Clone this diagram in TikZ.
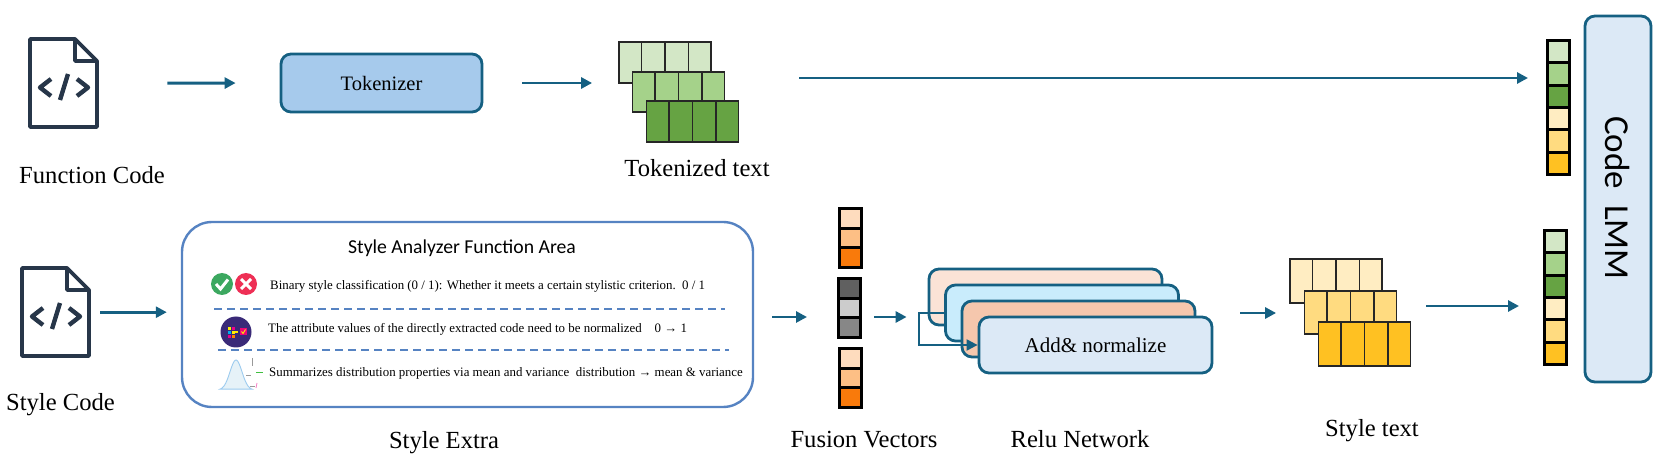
\documentclass[tikz,border=0pt]{standalone}
\usepackage{fontspec}
\setmainfont{Liberation Serif}
\newfontfamily\carlito{Carlito}
\usetikzlibrary{arrows.meta,positioning,calc}
\definecolor{arrBlue}{RGB}{21,96,130}
\definecolor{iconInk}{RGB}{39,54,73}
\definecolor{tokFill}{RGB}{166,202,236}
\definecolor{lmmFill}{RGB}{220,233,246}
\definecolor{areaLine}{RGB}{86,131,194}
\definecolor{gLight}{RGB}{211,231,198}
\definecolor{gMid}{RGB}{165,210,138}
\definecolor{gDark}{RGB}{102,163,67}
\definecolor{yLight}{RGB}{255,237,194}
\definecolor{yMid}{RGB}{255,219,128}
\definecolor{yDark}{RGB}{255,193,34}
\definecolor{oLight}{RGB}{254,220,190}
\definecolor{oMid}{RGB}{253,191,133}
\definecolor{oDark}{RGB}{249,122,11}
\definecolor{kDark}{RGB}{96,96,96}
\definecolor{kLight}{RGB}{204,204,204}
\definecolor{kMid}{RGB}{135,135,135}
\definecolor{reluA}{RGB}{251,227,214}
\definecolor{reluB}{RGB}{201,236,252}
\definecolor{reluC}{RGB}{245,199,173}
\definecolor{okGreen}{RGB}{60,168,96}
\definecolor{noRed}{RGB}{238,47,85}
\definecolor{normPurple}{RGB}{58,42,120}
\definecolor{bellFill}{RGB}{230,242,248}
\definecolor{bellLine}{RGB}{156,203,239}

\begin{document}
\begin{tikzpicture}[
  x=1pt, y=-1pt,
  arr/.style={-{Triangle[length=11pt,width=11pt]}, line width=2.9pt, draw=arrBlue},
  lab/.style={font=\fontsize{24.6}{28}\selectfont, inner sep=0pt},
  tokbox/.style={rounded corners=10pt, draw=arrBlue, line width=2.8pt, inner sep=0pt, font=\fontsize{20.5}{24}\selectfont},
  relubox/.style={tokbox, minimum width=233pt, minimum height=56pt, font=\fontsize{21}{25}\selectfont},
  rowbox/.style={draw=black!85, line width=1.8pt, minimum width=92pt, inner sep=0pt},
  cellline/.style={black!85, line width=1.8pt},
  cell/.style={draw=black, line width=3pt, inner sep=0pt},
  ghost/.style={inner sep=0pt, draw=none},
  stat/.style={font=\fontsize{12.9}{15}\selectfont, anchor=west, inner sep=0pt},
  sep/.style={areaLine, line width=1.8pt, dash pattern=on 8pt off 5pt},
]
\useasboundingbox (0,0) rectangle (1666,462);

% file icon: #1 name, #2 left, #3 top
\newcommand{\docicon}[3]{%
  \node[ghost, minimum width=71pt, minimum height=92pt, anchor=north west] (#1) at (#2,#3) {};
  \begin{scope}[shift={(#2,#3)}, iconInk, line width=3.8pt, line join=round]
    \draw (2,2) -- (47,2) -- (69,24) -- (69,90) -- (2,90) -- cycle;
    \draw (47,2) -- (47,24) -- (69,24);
    \draw[line width=4.4pt] (23,42) -- (12,50.5) -- (23,59);
    \draw[line width=4.4pt] (49,42) -- (60,50.5) -- (49,59);
    \draw[line width=4.4pt] (40,37) -- (32,63);
  \end{scope}
}
% one row of a token stack: #1 name, #2 centre x, #3 centre y, #4 height, #5 fill
\newcommand{\tokrow}[5]{%
  \node[rowbox, fill=#5, minimum height=#4pt] (#1) at (#2,#3) {};
  \foreach \f in {0.25,0.5,0.75}
    \draw[cellline] ($(#1.north west)!\f!(#1.north east)$) -- ($(#1.south west)!\f!(#1.south east)$);
}
% vertical vector: #1 name, #2 centre x, #3 top, #4 cell height, #5 fills
\newcommand{\vecbar}[5]{%
  \foreach \c [count=\i] in {#5} {
    \pgfmathsetmacro{\cy}{#3+(\i-0.5)*#4}
    \node[cell, fill=\c, minimum width=22pt, minimum height=#4pt] (#1-\i) at (#2,\cy) {};
  }
}

% ======================= top row =======================
\docicon{fdoc}{28}{37}
\node[lab] (fdoclab) at (92,175) {Function Code};
\node[tokbox, fill=tokFill, minimum width=201pt, minimum height=58pt] (tok) at (381.5,83) {Tokenizer};
\tokrow{tkA}{665}{62.5}{41}{gLight}
\tokrow{tkB}{678.5}{92}{40}{gMid}
\tokrow{tkC}{692.5}{121.5}{41}{gDark}
\node[lab] (tklab) at (697,168) {Tokenized text};
\draw[arr, shorten <=68pt, shorten >=44pt] (fdoc.east) -- (tok.west);
\draw[arr, shorten <=39pt, shorten >=26pt] (tok.east) -- (tok.east -| tkA.west);

\vecbar{vecA}{1558.5}{40.5}{22.33}{gLight,gMid,gDark,yLight,yMid,yDark}
\node[tokbox, fill=lmmFill, minimum width=66pt, minimum height=366pt] (lmm) at (1618,199) {};
\node[font=\carlito\fontsize{35}{38}\selectfont, rotate=-90, inner sep=0pt] (lmmlab) at (1618,198) {Code\ \ LMM};
\coordinate (toptail) at (799,78);
\draw[arr, shorten >=18pt] (toptail) -- (toptail -| vecA-1.west);

% ======================= bottom row =======================
\docicon{sdoc}{20}{266}
\node[lab] (sdoclab) at (60.5,405) {Style Code};
\node[draw=areaLine, line width=2.4pt, rounded corners=30pt, fill=white, minimum width=571pt, minimum height=185pt] (area) at (467.5,314.5) {};
\node[lab] (arealab) at (444,443) {Style Extra};
\draw[arr, shorten <=9pt, shorten >=14pt] (sdoc.east) -- (sdoc.east -| area.west);

\node[font=\carlito\fontsize{19.7}{23}\selectfont, inner sep=0pt] (areatitle) at (462,248) {Style Analyzer Function Area};
\node[stat] (statA) at (270,286) {Binary style classification (0 / 1): Whether it meets a certain stylistic criterion.\ \ 0 / 1};
\node[stat] (statB) at (268,329) {The attribute values of the directly extracted code need to be normalized\ \ \ \ 0 → 1};
\node[stat] (statC) at (269,373) {Summarizes distribution properties via mean and variance\ \ distribution → mean \& variance};
\coordinate (sepAl) at (214,309);
\coordinate (sepAr) at (725,309);
\coordinate (sepBl) at (218,350);
\coordinate (sepBr) at (729,350);
\draw[sep] (sepAl) -- (sepAr);
\draw[sep] (sepBl) -- (sepBr);

% small icons in the area
\node[circle, fill=okGreen, minimum size=22pt, inner sep=0pt] (okdot) at (222,284) {};
\draw[white, line width=3pt] (216,284) -- (220.5,289) -- (228,279.5);
\node[circle, fill=noRed, minimum size=22pt, inner sep=0pt] (nodot) at (246,284) {};
\draw[white, line width=3pt] (241,279) -- (251,289) (251,279) -- (241,289);
\node[circle, fill=normPurple, minimum size=31pt, inner sep=0pt] (normdot) at (236,332) {};
\foreach \cx/\cy/\c in {228/327/yellow, 231.5/327/magenta, 228/331/cyan, 231.5/331/yellow, 228/335/magenta, 231.5/335/orange}
  \fill[\c] (\cx,\cy) rectangle ++(3,3);
\fill[yellow!90!orange] (235,331.5) rectangle (238,333.5);
\fill[magenta!80!red] (240,328) rectangle (247,335.5);
\draw[yellow, line width=0.9pt] (241.5,331.5) -- (243,333.5) -- (245.5,329.5);
\draw[bellLine, fill=bellFill, line width=0.9pt] plot[domain=220:252, samples=40] (\x,{390-30*exp(-((\x-236)^2)/72)}) -- cycle;
\draw[black!40, line width=0.5pt] (252,358) -- (252,366) (246,375) -- (251,375) (250,386) -- (255,386);
\draw[green!50!gray, line width=0.8pt] (256,372) -- (263,372);
\draw[magenta!50, line width=0.8pt] (257,383) -- (256,388);

% fusion vectors
\vecbar{fusO}{850}{208.5}{19.67}{oLight,oMid,oDark}
\vecbar{fusG}{849.5}{278.5}{19.67}{kDark,kLight,kMid}
\vecbar{fusP}{850}{348.5}{19.67}{oLight,oMid,oDark}
\node[lab] (fuslab) at (864,440) {Fusion Vectors};

% relu network
\node[relubox, fill=reluA] (reluA) at (1045.5,297) {};
\node[relubox, fill=reluB] (reluB) at (1062,313) {};
\node[relubox, fill=reluC] (reluC) at (1078.5,329) {};
\node[relubox, fill=lmmFill] (reluD) at (1095.5,345) {Add\& normalize};
\node[lab] (relulab) at (1080,439) {Relu Network};
\draw[arr, line width=2pt] (reluB.west) -- ++(-25,0) |- (reluD.west);

\coordinate (fusin) at (772,317);
\coordinate (fusout) at (874,317);
\draw[arr, shorten >=30pt] (fusin) -- (fusin -| fusG-1.west);
\draw[arr, shorten >=21pt] (fusout) -- (fusout -| reluA.west);

% style text
\tokrow{stA}{1336}{281}{44}{yLight}
\tokrow{stB}{1350.5}{312.5}{43}{yMid}
\tokrow{stC}{1364.5}{344}{44}{yDark}
\node[lab] (stlab) at (1372,431) {Style text};
\coordinate (stin) at (1240,313);
\coordinate (stout) at (1426,306);
\draw[arr, shorten >=13pt] (stin) -- (stin -| stA.west);

\vecbar{vecB}{1555.5}{230.5}{22.33}{gLight,gMid,gDark,yLight,yMid,yDark}
\draw[arr, shorten >=24pt] (stout) -- (stout -| vecB-1.west);
\end{tikzpicture}
\end{document}
